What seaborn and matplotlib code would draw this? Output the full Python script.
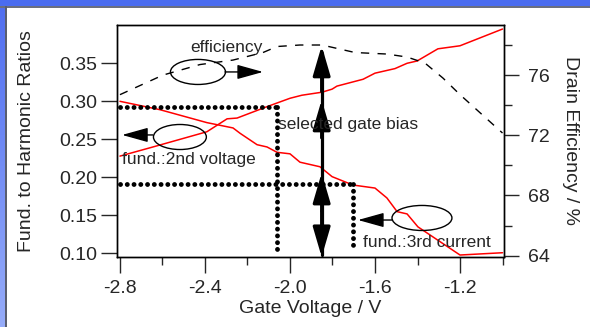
import numpy as np
import pandas as pd
import matplotlib
matplotlib.use("Agg")
import matplotlib.pyplot as plt
import seaborn as sns
from matplotlib.patches import Ellipse, Rectangle
from matplotlib.ticker import FormatStrFormatter

# ---------------- data ----------------
gate_v_2nd = [-2.8, -2.645, -2.391, -2.296, -2.249, -2.108, -2.0, -1.944, -1.849,
              -1.802, -1.779, -1.656, -1.6, -1.506, -1.449, -1.402, -1.304, -1.2, -1.0]
ratio_2nd_voltage = [0.228, 0.240, 0.260, 0.277, 0.278, 0.293, 0.304, 0.308, 0.312,
                     0.316, 0.320, 0.329, 0.337, 0.343, 0.350, 0.353, 0.369, 0.373, 0.395]

gate_v_3rd = [-2.8, -2.612, -2.391, -2.268, -2.235, -2.155, -2.108, -2.061, -2.0, -1.953,
              -1.859, -1.802, -1.704, -1.6, -1.544, -1.496, -1.449, -1.398, -1.2, -1.0]
ratio_3rd_current = [0.300, 0.289, 0.272, 0.265, 0.258, 0.243, 0.240, 0.233, 0.231, 0.220,
                     0.214, 0.201, 0.190, 0.186, 0.173, 0.155, 0.152, 0.135, 0.098, 0.101]

gate_v_eff = [-2.8, -2.598, -2.424, -2.268, -2.127, -2.061, -1.953, -1.849, -1.694,
              -1.544, -1.449, -1.365, -1.28, -1.2, -1.0]
drain_efficiency = [74.7, 76.0, 76.7, 77.0, 77.5, 77.9, 78.0, 78.0, 77.5,
                    77.4, 77.2, 76.8, 75.8, 74.7, 72.15]

x_ticks = [-2.8, -2.4, -2.0, -1.6, -1.2]
x_minor = [-2.6, -2.2, -1.8, -1.4, -1.0]
left_ticks = [0.10, 0.15, 0.20, 0.25, 0.30, 0.35]
right_ticks = [64, 68, 72, 76]
right_minor = [66, 70, 74, 78]

# reference marks
bias_a_v, bias_a_ratio = -2.061, 0.292
bias_b_v, bias_b_ratio, bias_b_end = -1.704, 0.191, 0.107
selected_v = -1.851
selected_eff_ratio = 0.373
arrow_tips = [0.302, 0.206]

df2 = pd.DataFrame({"v": gate_v_2nd, "r": ratio_2nd_voltage})
df3 = pd.DataFrame({"v": gate_v_3rd, "r": ratio_3rd_current})
dfe = pd.DataFrame({"v": gate_v_eff, "e": drain_efficiency})

# ---------------- style ----------------
sns.set_theme(style="white")
plt.rcParams["font.family"] = ["Liberation Sans", "DejaVu Sans"]
plt.rcParams["axes.unicode_minus"] = False
plt.rcParams["axes.edgecolor"] = "black"
plt.rcParams["axes.linewidth"] = 1.0

fig = plt.figure(figsize=(5.9, 3.27), dpi=100)
fig.patch.set_facecolor("white")
ax = fig.add_axes([117 / 590, 1 - 257 / 327, (504 - 117) / 590, (257 - 25) / 327])
ax2 = ax.twinx()

XL = (-2.814, -0.993)
YL = (0.0954, 0.4003)
YR = (63.91, 79.33)

sns.lineplot(data=df2, x="v", y="r", ax=ax, color="red", lw=1.1, estimator=None)
sns.lineplot(data=df3, x="v", y="r", ax=ax, color="red", lw=1.1, estimator=None)
sns.lineplot(data=dfe, x="v", y="e", ax=ax2, color="black", lw=1.0, estimator=None)
ax2.lines[0].set_dashes((6, 6))

ax.set_xlim(*XL)
ax.set_ylim(*YL)
ax2.set_ylim(*YR)

# dotted guide lines
dot_kw = dict(color="black", lw=3.5, dashes=(0.01, 1.38), dash_capstyle="round", zorder=3)
ax.plot([XL[0] + 0.012, bias_a_v], [bias_a_ratio, bias_a_ratio], **dot_kw)
ax.plot([bias_a_v, bias_a_v], [bias_a_ratio, YL[0] + 0.004], **dot_kw)
ax.plot([XL[0] + 0.012, bias_b_v], [bias_b_ratio, bias_b_ratio], **dot_kw)
ax.plot([bias_b_v, bias_b_v], [bias_b_ratio, bias_b_end], **dot_kw)

# selected gate bias arrow
ax.plot([selected_v, selected_v], [YL[0] + 0.002, selected_eff_ratio - 0.01], color="black", lw=2.3, zorder=4)
big = dict(arrowstyle="-|>,head_length=1.3,head_width=0.38", color="black", lw=2.3,
           mutation_scale=14, shrinkA=0, shrinkB=0)
ax.annotate("", xy=(selected_v, selected_eff_ratio), xytext=(selected_v, selected_eff_ratio - 0.06), arrowprops=big, zorder=5)
for tip in arrow_tips:
    ax.annotate("", xy=(selected_v, tip), xytext=(selected_v, tip - 0.05), arrowprops=big, zorder=5)
ax.annotate("", xy=(selected_v, YL[0]), xytext=(selected_v, YL[0] + 0.06), arrowprops=big, zorder=5)

# ellipses and small arrows
ell_kw = dict(fill=False, edgecolor="black", lw=1.0, zorder=5)
ax.add_patch(Ellipse((-2.433, 0.3386), 0.259, 0.0329, **ell_kw))
ax.add_patch(Ellipse((-2.518, 0.2531), 0.249, 0.0329, **ell_kw))
ax.add_patch(Ellipse((-1.379, 0.1467), 0.282, 0.0329, **ell_kw))
small = dict(arrowstyle="-|>,head_length=1.15,head_width=0.32", color="black", lw=1.0,
             mutation_scale=14, shrinkA=0, shrinkB=0)
ax.annotate("", xy=(-2.127, 0.3386), xytext=(-2.306, 0.3386), arrowprops=small, zorder=5)
ax.annotate("", xy=(-2.79, 0.2558), xytext=(-2.645, 0.2558), arrowprops=small, zorder=5)
ax.annotate("", xy=(-1.68, 0.144), xytext=(-1.52, 0.144), arrowprops=small, zorder=5)

# texts
tfs = 12.5
ax.text(-2.471, 0.371, "efficiency", fontsize=tfs, ha="left", va="center", zorder=6)
ax.text(-2.056, 0.269, "selected gate bias", fontsize=tfs, ha="left", va="center", zorder=6)
ax.text(-2.79, 0.223, "fund.:2nd voltage", fontsize=tfs, ha="left", va="center", zorder=6)
ax.text(-1.656, 0.115, "fund.:3rd current", fontsize=tfs, ha="left", va="center", zorder=6)

# ticks
fs = 14
ax.set_xticks(x_ticks)
ax.set_xticks(x_minor, minor=True)
ax.xaxis.set_major_formatter(FormatStrFormatter("%.1f"))
ax.set_yticks(left_ticks)
ax.yaxis.set_major_formatter(FormatStrFormatter("%.2f"))
ax.tick_params(axis="x", which="major", direction="out", length=11.5, width=1.0, pad=5, labelsize=fs, bottom=True, top=False)
ax.tick_params(axis="x", which="minor", direction="out", length=5.8, width=1.0, bottom=True, top=False)
ax.tick_params(axis="y", which="major", direction="out", length=11.5, width=1.0, pad=3, labelsize=fs, left=True, right=False)
ax2.set_yticks(right_ticks)
ax2.set_yticks(right_minor, minor=True)
ax2.tick_params(axis="y", which="major", direction="out", length=11, width=1.0, pad=6, labelsize=fs, right=True)
ax2.tick_params(axis="y", which="minor", direction="out", length=5.8, width=1.0, right=True)

ax.set_xlabel("Gate Voltage / V", fontsize=fs, labelpad=2)
ax.set_ylabel("Fund. to Harmonic Ratios", fontsize=fs, labelpad=17)
ax2.set_ylabel("Drain Efficiency / %", fontsize=fs, rotation=270, va="bottom", labelpad=9)

for a in (ax, ax2):
    for s in a.spines.values():
        s.set_visible(True)
        s.set_color("black")
        s.set_linewidth(1.0)

# slide frame (blue bands)
fig.add_artist(Rectangle((0, 1 - 6 / 327), 1, 6 / 327, transform=fig.transFigure,
                         facecolor="#4a6cf0", edgecolor="none", zorder=10))
fig.add_artist(Rectangle((0, 1 - 7.5 / 327), 1, 1.5 / 327, transform=fig.transFigure,
                         facecolor="#6b6f80", edgecolor="none", zorder=10))
bax = fig.add_axes([0, 0, 5 / 590, 1 - 6 / 327])
grad = np.linspace(0, 1, 256)[:, None, None]
top_c = np.array([80, 110, 240]) / 255
bot_c = np.array([150, 172, 250]) / 255
img = top_c * (1 - grad) + bot_c * grad
bax.imshow(img, aspect="auto", extent=(0, 1, 0, 1))
bax.axis("off")
fig.add_artist(Rectangle((5 / 590, 0), 1.5 / 590, 1 - 6 / 327, transform=fig.transFigure,
                         facecolor="#5a5e70", edgecolor="none", zorder=10))

fig.savefig("out.png", dpi=100)
